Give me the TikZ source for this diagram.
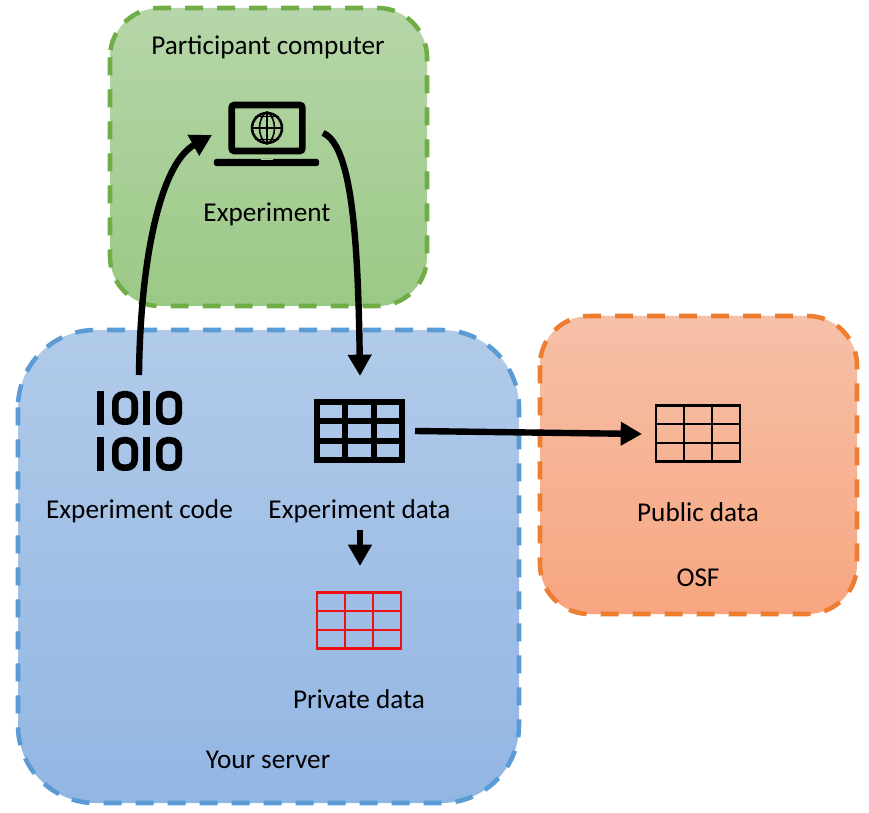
\documentclass[tikz,border=0pt]{standalone}
\usepackage{fontspec}
\setmainfont{Carlito}
\usetikzlibrary{arrows.meta, calc}

\definecolor{bluetop}{HTML}{B1CAE9}
\definecolor{bluebot}{HTML}{92B6E3}
\definecolor{blueline}{HTML}{5B9BD5}
\definecolor{greentop}{HTML}{B6D6A9}
\definecolor{greenbot}{HTML}{9BC986}
\definecolor{greenline}{HTML}{70AD47}
\definecolor{orangetop}{HTML}{F6C0A8}
\definecolor{orangebot}{HTML}{F7A680}
\definecolor{orangeline}{HTML}{ED7D31}
\definecolor{privred}{HTML}{EE1111}

\tikzset{
  region/.style = {line width=3.4pt, dash pattern=on 13.5pt off 10.5pt},
  lbl/.style = {font=\fontsize{20.4pt}{22pt}\selectfont, inner sep=0pt, text depth=0pt},
  flow/.style = {line width=4.8pt, -{Triangle[length=16pt,width=17pt]}},
  tablebox/.style = {draw=#1, rectangle, inner sep=0pt, path picture={
    \foreach \f in {0.333,0.667}{
      \draw[#1] ($(path picture bounding box.north west)!\f!(path picture bounding box.north east)$) -- ($(path picture bounding box.south west)!\f!(path picture bounding box.south east)$);
      \draw[#1] ($(path picture bounding box.north west)!\f!(path picture bounding box.south west)$) -- ($(path picture bounding box.north east)!\f!(path picture bounding box.south east)$);
    }}},
  binbar/.style = {fill=black, draw=none, rectangle, inner sep=0pt, minimum width=5.2pt, minimum height=25.5pt},
  binzero/.style = {draw=black, line width=5pt, rectangle, rounded corners=6pt, inner sep=0pt, minimum width=14.5pt, minimum height=20.5pt}
}

\begin{document}
\begin{tikzpicture}[x=0.75pt, y=-0.75pt]
\useasboundingbox (0,0) rectangle (869,813);

% the three regions
\draw[region, draw=greenline, top color=greentop, bottom color=greenbot, rounded corners=37pt] (110,8) rectangle (427,306);
\draw[region, draw=blueline, top color=bluetop, bottom color=bluebot, rounded corners=58pt] (18,330) rectangle (519,803);
\draw[region, draw=orangeline, top color=orangetop, bottom color=orangebot, rounded corners=37pt] (540,316) rectangle (857,614);

% labels
\node[lbl] (partcomp) at (268,45) {Participant computer};
\node[lbl] (expt) at (267,212) {Experiment};
\node[lbl] (expcode) at (139.5,509) {Experiment code};
\node[lbl] (expdata) at (359.5,509) {Experiment data};
\node[lbl] (privdata) at (359,699) {Private data};
\node[lbl] (server) at (268,760) {Your server};
\node[lbl] (pubdata) at (698,512) {Public data};
\node[lbl] (osf) at (698,578) {OSF};

% laptop
\node[draw, line width=5pt, rectangle, rounded corners=2pt, inner sep=0pt, minimum width=53pt, minimum height=34.5pt] (screen) at (267,128) {};
\node[draw, line width=1.9pt, circle, inner sep=0pt, minimum size=22.5pt] (globe) at (267,128) {};
\draw[line width=1.2pt] (globe.north) -- (globe.south);
\draw[line width=1.2pt] (globe.west) -- (globe.east);
\draw[line width=1.2pt] (globe.north) .. controls (257,118) and (257,138) .. (globe.south);
\draw[line width=1.2pt] (globe.north) .. controls (277,118) and (277,138) .. (globe.south);
\draw[line width=1.2pt] (globe.north west) -- (globe.north east);
\draw[line width=1.2pt] (globe.south west) -- (globe.south east);
\node[fill=black, rectangle, rounded corners=2pt, inner sep=0pt, minimum width=79pt, minimum height=5.4pt] (base) at (266.5,162.5) {};
\node[fill=greentop!60!greenbot, rectangle, inner sep=0pt, minimum width=9pt, minimum height=1pt] (notch) at (266.5,159.6) {};

% binary icon
\foreach \r/\ypos in {a/408,b/454}{
  \node[binbar] (\r one) at (100.5,\ypos) {};
  \node[binzero] (\r zero) at (125,\ypos) {};
  \node[binbar] (\r two) at (146.5,\ypos) {};
  \node[binzero] (\r three) at (169,\ypos) {};
}

% tables
\node[tablebox=black, line width=4.6pt, minimum width=64pt, minimum height=43pt] (bigtable) at (359.5,431) {};
\node[tablebox=black, line width=1.6pt, minimum width=63.5pt, minimum height=42pt] (pubtable) at (698,433.5) {};
\node[tablebox=privred, line width=1.6pt, minimum width=63.5pt, minimum height=42pt] (privtable) at (359,620.5) {};

% connectors
\coordinate (codeout) at (139,375);
\coordinate (lapin) at (212,135);
\coordinate (lapout) at (323,133);
\coordinate (datain) at (360,376);
\coordinate (dataout) at (415,431);
\coordinate (pubin) at (642,434);
\coordinate (splitout) at (360,530);
\coordinate (splitin) at (360,566);
\draw[flow] (codeout) .. controls (140,270) and (158,165) .. (lapin);
\draw[flow] (lapout) .. controls (352,145) and (358,240) .. (datain);
\draw[flow] (dataout) -- (pubin);
\draw[flow] (splitout) -- (splitin);
\end{tikzpicture}
\end{document}
